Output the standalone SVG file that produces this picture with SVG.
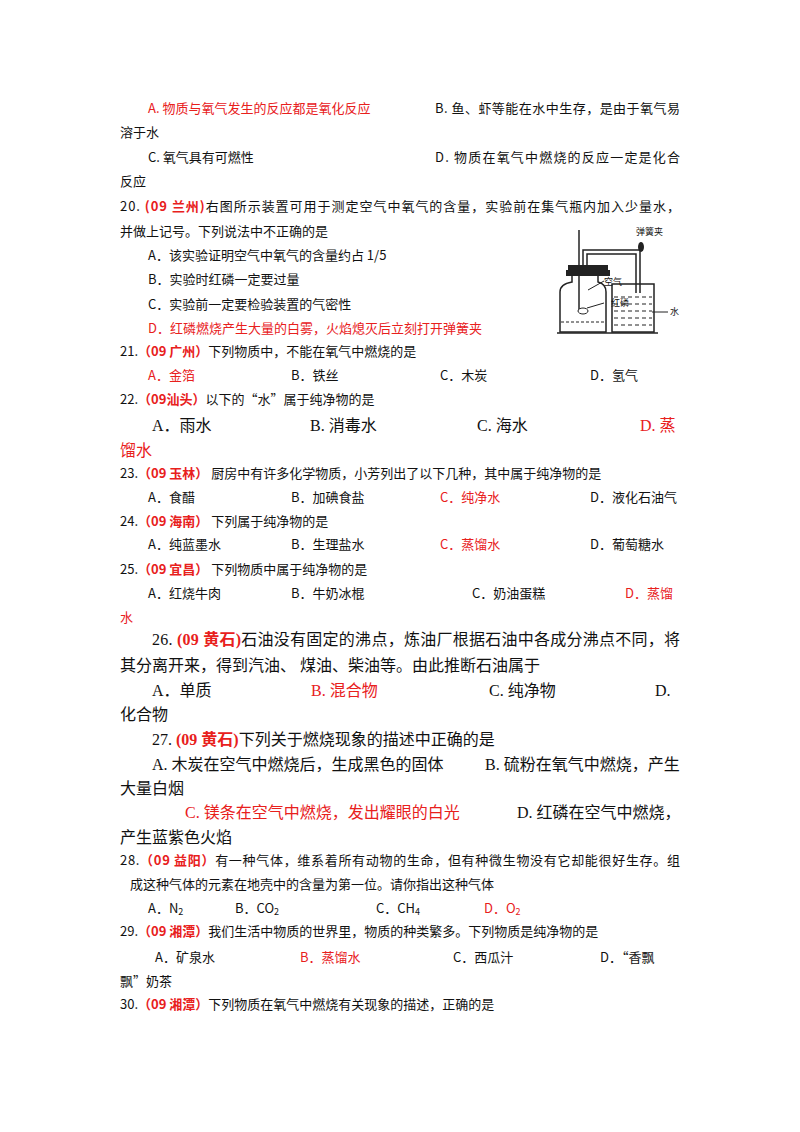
<svg xmlns="http://www.w3.org/2000/svg" width="800" height="1132" viewBox="0 0 800 1132">
<style>
text{font-family:"Noto Sans CJK SC","Noto Sans",sans-serif;font-size:13px;fill:#111}
.r{fill:#e8201c}
.b{font-weight:bold}
.L{font-family:"Liberation Serif","Noto Sans CJK SC",serif;font-size:16px}
.s{font-size:9px}
.ln{stroke:#222;stroke-width:1.5;fill:none}
</style>
<rect width="800" height="1132" fill="#fff"/>
<text x="148" y="113" class="r">A. 物质与氧气发生的反应都是氧化反应</text>
<text x="435" y="113" textLength="245">B. 鱼、虾等能在水中生存，是由于氧气易</text>
<text x="120" y="137">溶于水</text>
<text x="148" y="162">C. 氧气具有可燃性</text>
<text x="435" y="162" textLength="245">D. 物质在氧气中燃烧的反应一定是化合</text>
<text x="120" y="186">反应</text>
<text x="120" y="211" textLength="560">20. <tspan class="r b">(09 兰州)</tspan>右图所示装置可用于测定空气中氧气的含量，实验前在集气瓶内加入少量水，</text>
<text x="120" y="236">并做上记号。下列说法中不正确的是</text>
<text x="148" y="260">A．该实验证明空气中氧气的含量约占 1/5</text>
<text x="148" y="284">B．实验时红磷一定要过量</text>
<text x="148" y="309">C．实验前一定要检验装置的气密性</text>
<text x="148" y="333" class="r">D．红磷燃烧产生大量的白雾，火焰熄灭后立刻打开弹簧夹</text>
<g id="apparatus">
<line class="ln" x1="579" y1="230" x2="579" y2="310"/>
<path class="ln" d="M583 265 V250 H640 V293"/>
<path class="ln" d="M587 265 V254 H636 V293"/>
<rect x="568" y="265" width="40" height="5" fill="#222"/>
<rect x="566" y="270" width="44" height="6" fill="#222"/>
<path class="ln" d="M572 276 V282 Q560 284 560 292 V332 H606 V292 Q606 284 598 282 V276"/>
<rect x="612" y="284" width="42" height="48" class="ln"/>
<line x1="561" y1="322" x2="605" y2="322" stroke="#222" stroke-dasharray="3,2"/>
<g stroke="#222" stroke-dasharray="4,3">
<line x1="614" y1="297" x2="652" y2="297"/><line x1="614" y1="304" x2="652" y2="304"/><line x1="614" y1="311" x2="652" y2="311"/><line x1="614" y1="318" x2="652" y2="318"/><line x1="614" y1="325" x2="652" y2="325"/></g>
<line class="ln" x1="557" y1="333" x2="658" y2="333"/>
<ellipse cx="583" cy="311" rx="5" ry="3" fill="#fff" stroke="#222"/>
<ellipse cx="641" cy="247" rx="3" ry="5" fill="#222"/>
<line x1="588" y1="290" x2="604" y2="281" stroke="#222"/>
<line x1="587" y1="308" x2="604" y2="303" stroke="#222"/>
<line x1="652" y1="312" x2="668" y2="312" stroke="#222"/>
<text x="636" y="235" class="s">弹簧夹</text>
<text x="604" y="285" class="s">空气</text>
<text x="611" y="306" class="s">红磷</text>
<text x="670" y="315" class="s">水</text>
</g>
<text x="120" y="356">21.<tspan class="r b">（09 广州）</tspan>下列物质中，不能在氧气中燃烧的是</text>
<text x="148" y="380" class="r">A．金箔</text><text x="291" y="380">B．铁丝</text><text x="440" y="380">C．木炭</text><text x="590" y="380">D．氢气</text>
<text x="120" y="404">22.<tspan class="r b">（09汕头）</tspan>以下的“水”属于纯净物的是</text>
<text x="152" y="431" class="L">A．雨水</text><text x="310" y="431" class="L">B. 消毒水</text><text x="477" y="431" class="L">C. 海水</text><text x="640" y="431" class="L r">D. 蒸</text>
<text x="120" y="456" class="L r">馏水</text>
<text x="120" y="478">23.<tspan class="r b">（09 玉林）</tspan> 厨房中有许多化学物质，小芳列出了以下几种，其中属于纯净物的是</text>
<text x="148" y="502">A．食醋</text><text x="291" y="502">B．加碘食盐</text><text x="440" y="502" class="r">C．纯净水</text><text x="590" y="502">D．液化石油气</text>
<text x="120" y="526">24.<tspan class="r b">（09 海南）</tspan> 下列属于纯净物的是</text>
<text x="148" y="549">A．纯蓝墨水</text><text x="291" y="549">B．生理盐水</text><text x="440" y="549" class="r">C．蒸馏水</text><text x="590" y="549">D．葡萄糖水</text>
<text x="120" y="574">25.<tspan class="r b">（09 宜昌）</tspan> 下列物质中属于纯净物的是</text>
<text x="148" y="598">A．红烧牛肉</text><text x="291" y="598">B．牛奶冰棍</text><text x="472" y="598">C．奶油蛋糕</text><text x="625" y="598" class="r">D．蒸馏</text>
<text x="120" y="622" class="r">水</text>
<text x="152" y="645" class="L" textLength="528">26. <tspan class="r b">(09 黄石)</tspan>石油没有固定的沸点，炼油厂根据石油中各成分沸点不同，将</text>
<text x="120" y="671" class="L">其分离开来，得到汽油、 煤油、柴油等。由此推断石油属于</text>
<text x="152" y="696" class="L">A．单质</text><text x="311" y="696" class="L r">B. 混合物</text><text x="489" y="696" class="L">C. 纯净物</text><text x="655" y="696" class="L">D.</text>
<text x="120" y="720" class="L">化合物</text>
<text x="152" y="745" class="L">27. <tspan class="r b">(09 黄石)</tspan>下列关于燃烧现象的描述中正确的是</text>
<text x="152" y="770" class="L">A. 木炭在空气中燃烧后，生成黑色的固体</text><text x="485" y="770" class="L">B. 硫粉在氧气中燃烧，产生</text>
<text x="120" y="794" class="L">大量白烟</text>
<text x="185" y="818" class="L r">C. 镁条在空气中燃烧，发出耀眼的白光</text><text x="517" y="818" class="L">D. 红磷在空气中燃烧，</text>
<text x="120" y="843" class="L">产生蓝紫色火焰</text>
<text x="120" y="865" textLength="560">28.<tspan class="r b">（09 益阳）</tspan>有一种气体，维系着所有动物的生命，但有种微生物没有它却能很好生存。组</text>
<text x="130" y="889">成这种气体的元素在地壳中的含量为第一位。请你指出这种气体</text>
<text x="148" y="913">A．N<tspan font-size="9" dy="2">2</tspan></text><text x="235" y="913">B．CO<tspan font-size="9" dy="2">2</tspan></text><text x="376" y="913">C．CH<tspan font-size="9" dy="2">4</tspan></text><text x="484" y="913" class="r">D．O<tspan font-size="9" dy="2">2</tspan></text>
<text x="120" y="936">29.<tspan class="r b">（09 湘潭）</tspan>我们生活中物质的世界里，物质的种类繁多。下列物质是纯净物的是</text>
<text x="155" y="962">A．矿泉水</text><text x="300" y="962" class="r">B．蒸馏水</text><text x="453" y="962">C．西瓜汁</text><text x="600" y="962">D．“香飘</text>
<text x="120" y="986">飘”奶茶</text>
<text x="120" y="1009">30.<tspan class="r b">（09 湘潭）</tspan>下列物质在氧气中燃烧有关现象的描述，正确的是</text>
</svg>
